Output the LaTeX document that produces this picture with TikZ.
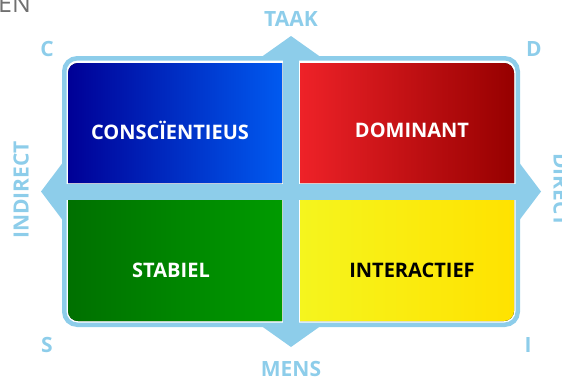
\documentclass[tikz,border=0pt]{standalone}
\usepackage{fontspec}
\setmainfont{Open Sans}
\definecolor{lichtblauw}{HTML}{8DCDEA}
\definecolor{grijs}{HTML}{707070}
\tikzset{
  as/.style={font=\bfseries\fontsize{21}{21}\selectfont, text=lichtblauw},
  vak/.style={font=\bfseries\fontsize{20}{20}\selectfont, text=white}
}

\begin{document}
\begin{tikzpicture}[x=1pt,y=-1pt]
    \useasboundingbox (0,0) rectangle (562,381);
    \node[anchor=base west, text=grijs, font=\fontsize{25}{25}\selectfont, inner sep=0] (rest) at (-2,12) {EN};
    % pijlpunten
    \fill[lichtblauw] (260,58) -- (291,36) -- (322,58) -- cycle;
    \fill[lichtblauw] (260,325) -- (291,347) -- (322,325) -- cycle;
    \fill[lichtblauw] (64,161) -- (41,191.5) -- (64,222) -- cycle;
    \fill[lichtblauw] (518,161) -- (541,191.5) -- (518,222) -- cycle;
    % kader en kruis
    \draw[lichtblauw, line width=4.5, rounded corners=13] (64.25,58.25) rectangle (517.75,324.75);
    \fill[lichtblauw] (283,58) rectangle (299,325);
    \fill[lichtblauw] (64,184) rectangle (518,199.5);
    % vier vlakken
    \fill[left color={rgb,255:red,0;green,0;blue,150}, right color={rgb,255:red,0;green,90;blue,240}]
    (68,183) -- (68,73) arc[start angle=180, end angle=270, radius=10] -- (282,63) -- (282,183) -- cycle;
    \fill[left color={rgb,255:red,238;green,34;blue,40}, right color={rgb,255:red,150;green,0;blue,0}]
    (300,183) -- (300,63) -- (504,63) arc[start angle=270, end angle=360, radius=10] -- (514,183) -- cycle;
    \fill[left color={rgb,255:red,0;green,112;blue,0}, right color={rgb,255:red,0;green,155;blue,0}]
    (282,200) -- (68,200) -- (68,311) arc[start angle=180, end angle=90, radius=10] -- (282,321) -- cycle;
    \fill[left color={rgb,255:red,245;green,245;blue,30}, right color={rgb,255:red,255;green,226;blue,0}]
    (300,200) -- (300,321) -- (504,321) arc[start angle=90, end angle=0, radius=10] -- (514,200) -- cycle;
    \node[vak] (c) at (170,130) {CONSCÏENTIEUS};
    \node[vak] (d) at (412,130) {DOMINANT};
    \node[vak] (s) at (171,270) {STABIEL};
    \node[vak, text=black] (i) at (412,270) {INTERACTIEF};
    % assen
    \node[as] (taak) at (291,19) {TAAK};
    \node[as] (mens) at (291,369) {MENS};
    \node[as, rotate=90] (indirect) at (21,190) {INDIRECT};
    \node[as, rotate=-90] (direct) at (561,190) {DIRECT};
    \node[as] (hc) at (47,49) {C};
    \node[as] (hd) at (534,49) {D};
    \node[as] (hs) at (47,345) {S};
    \node[as] (hi) at (528,345) {I};
  \end{tikzpicture}
\end{document}
